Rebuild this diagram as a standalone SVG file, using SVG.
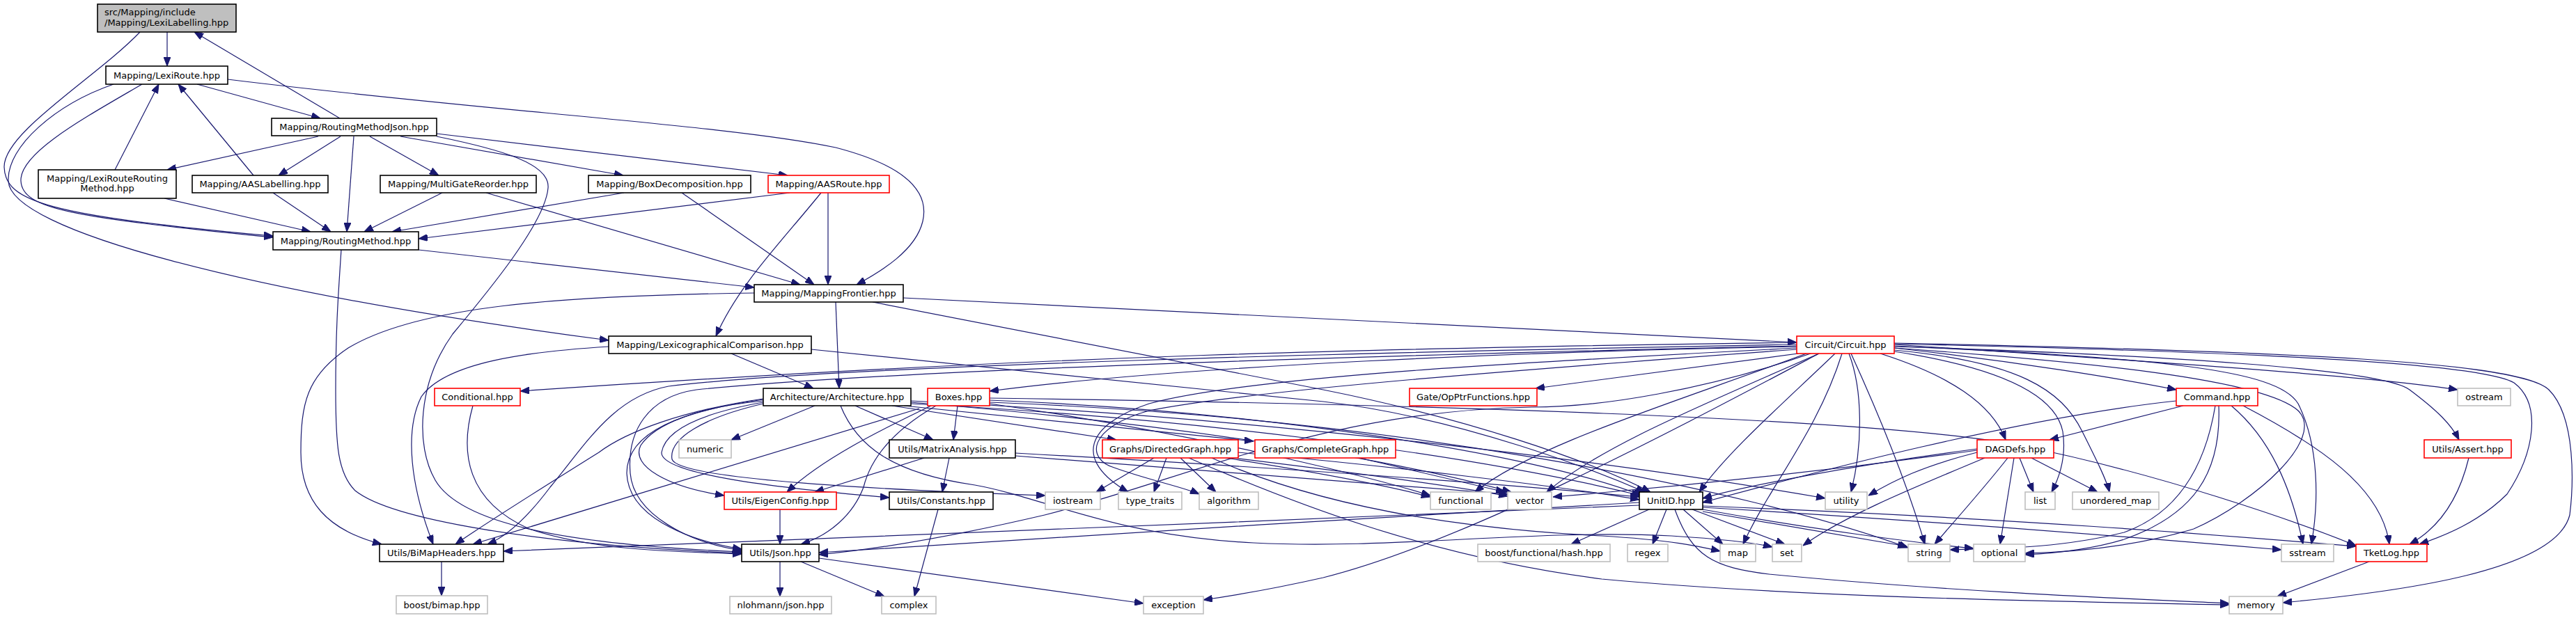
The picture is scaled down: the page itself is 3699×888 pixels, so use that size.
<svg xmlns="http://www.w3.org/2000/svg" width="3699" height="888" viewBox="0 0 3699 888">
<style>
.e{fill:none;stroke:#191970;stroke-width:1.2;marker-end:url(#a)}
.n rect{fill:#ffffff;stroke:#000000;stroke-width:1.6}
.g rect{stroke:#bfbfbf}
.r rect{stroke:#ff0000}
text{font-family:"DejaVu Sans","Liberation Sans",sans-serif;font-size:13px;fill:#000000;text-anchor:middle}
</style>
<defs>
<marker id="a" markerWidth="13" markerHeight="10" refX="13" refY="5" orient="auto" markerUnits="userSpaceOnUse"><path d="M0,0 L13,5 L0,10 z" fill="#191970" stroke="#191970" stroke-width="1"/></marker>
</defs>
<rect width="3699" height="888" fill="#ffffff"/>
<g id="edges">
<path class="e" d="M240,46 L240,95"/>
<path class="e" d="M201,46 C140,110 5,190 6,240 C7,290 70,310 392,339"/>
<path class="e" d="M283,121 L460,170"/>
<path class="e" d="M204,121 C120,170 28,220 30,260 C32,300 100,312 392,341"/>
<path class="e" d="M163,121 C80,150 10,210 12,260 C14,330 350,420 874,489"/>
<path class="e" d="M327,114 C700,160 1050,180 1200,212 C1300,238 1335,275 1325,318 C1315,360 1265,390 1230,409"/>
<path class="e" d="M488,170 L279,46"/>
<path class="e" d="M457,196 L240,244"/>
<path class="e" d="M489,196 L400,252"/>
<path class="e" d="M508,196 L498,333"/>
<path class="e" d="M531,196 L630,252"/>
<path class="e" d="M575,196 L895,252"/>
<path class="e" d="M627,192 L1131,252"/>
<path class="e" d="M627,196 C720,215 790,235 787,270 C783,320 700,420 650,480 C600,550 596,640 625,690 C660,750 800,782 1065,793"/>
<path class="e" d="M165,244 L228,121"/>
<path class="e" d="M236,285 L446,333"/>
<path class="e" d="M364,252 L256,121"/>
<path class="e" d="M392,277 L475,333"/>
<path class="e" d="M635,277 L523,333"/>
<path class="e" d="M698,277 L1149,409"/>
<path class="e" d="M896,277 L563,333"/>
<path class="e" d="M979,277 L1169,409"/>
<path class="e" d="M1134,277 L601,343"/>
<path class="e" d="M1189,277 L1189,409"/>
<path class="e" d="M1179,277 C1120,350 1060,410 1028,483"/>
<path class="e" d="M601,359 L1083,413"/>
<path class="e" d="M490,359 C486,420 482,470 482,560 C482,640 485,680 510,705 C560,745 760,782 1065,795"/>
<path class="e" d="M1200,434 L1205,558"/>
<path class="e" d="M1083,421 C800,425 600,440 500,500 C440,540 432,580 432,650 C432,720 470,762 548,782"/>
<path class="e" d="M1297,428 L2580,492"/>
<path class="e" d="M1253,434 L1900,560 C2100,600 2280,660 2370,707"/>
<path class="e" d="M1050,508 L1168,558"/>
<path class="e" d="M874,498 C760,505 640,520 605,570 C580,620 590,700 622,782"/>
<path class="e" d="M1165,502 L1900,577 C2100,600 2300,680 2362,707"/>
<path class="e" d="M679,583 C660,650 670,720 760,760 C850,790 950,792 1065,796"/>
<path class="e" d="M2580,492 C2000,500 1500,510 747,562"/>
<path class="e" d="M2580,498 C2200,505 1700,525 1421,562"/>
<path class="e" d="M2582,508 L2205,558"/>
<path class="e" d="M2720,500 C2900,520 3050,545 3125,560"/>
<path class="e" d="M2720,495 C3100,520 3400,540 3529,560"/>
<path class="e" d="M2700,508 C2800,540 2860,580 2880,632"/>
<path class="e" d="M2720,498 C3100,510 3420,530 3460,560 C3500,590 3520,610 3531,632"/>
<path class="e" d="M2720,505 C2850,525 2950,560 2962,620 C2968,660 2955,690 2946,707"/>
<path class="e" d="M2720,503 C2900,520 2960,560 2990,620 C3010,660 3025,690 3029,707"/>
<path class="e" d="M2720,500 C3000,520 3250,545 3300,590 C3340,630 3240,720 3150,760 C3050,790 2950,794 2908,795"/>
<path class="e" d="M2720,497 C3100,515 3270,530 3300,580 C3330,640 3330,720 3319,782"/>
<path class="e" d="M2720,494 C3200,505 3560,520 3610,550 C3650,580 3640,650 3600,710 C3560,750 3510,770 3474,782"/>
<path class="e" d="M2720,493 C3300,505 3620,520 3660,560 C3700,600 3695,700 3690,740 C3670,820 3450,850 3278,866"/>
<path class="e" d="M2658,508 C2700,600 2740,700 2764,782"/>
<path class="e" d="M2645,508 C2610,620 2540,700 2503,782"/>
<path class="e" d="M2655,508 C2675,560 2675,640 2658,707"/>
<path class="e" d="M2635,508 C2560,580 2480,650 2440,707"/>
<path class="e" d="M2612,508 C2450,580 2300,640 2221,707"/>
<path class="e" d="M2594,508 C2400,580 2200,640 2118,707"/>
<path class="e" d="M2612,508 C2400,620 2100,780 1900,830 C1820,848 1770,856 1728,862"/>
<path class="e" d="M2580,497 C2000,510 1300,530 1000,560 C930,570 900,620 905,680 C910,740 990,780 1065,791"/>
<path class="e" d="M2580,495 C2000,505 1200,525 960,555 C880,570 840,640 790,700 C760,740 730,770 700,782"/>
<path class="e" d="M2600,508 C2450,560 2300,585 2200,585 C1900,590 1700,690 1500,740 C1350,775 1250,790 1176,797"/>
<path class="e" d="M2580,500 C2200,520 1800,540 1650,580 C1560,610 1540,660 1620,707"/>
<path class="e" d="M2580,502 C2200,530 1800,560 1650,590 C1560,615 1560,660 1600,672 C1650,690 1700,700 1722,710"/>
<path class="e" d="M1096,576 C1000,585 940,610 920,640 C905,670 960,700 1040,712"/>
<path class="e" d="M1096,578 C1000,595 955,620 950,650 C948,680 1100,700 1277,715"/>
<path class="e" d="M1096,580 C1010,600 960,630 965,660 C975,690 1300,705 1501,712"/>
<path class="e" d="M1096,574 C980,590 900,620 900,680 C902,740 980,775 1065,789"/>
<path class="e" d="M1096,573 C980,590 900,620 860,650 C780,700 700,750 654,782"/>
<path class="e" d="M1170,583 L1050,632"/>
<path class="e" d="M1228,583 L1340,632"/>
<path class="e" d="M1281,583 L1603,632"/>
<path class="e" d="M1298,583 L1800,634"/>
<path class="e" d="M1308,580 C1700,600 2100,650 2356,712"/>
<path class="e" d="M1308,578 C1700,610 2000,660 2170,707"/>
<path class="e" d="M1308,576 C1800,600 2300,660 2621,716"/>
<path class="e" d="M1207,583 C1230,640 1280,680 1400,697 C1500,715 1600,770 1800,780 C2000,790 2200,760 2400,770 C2480,775 2520,780 2545,786"/>
<path class="e" d="M1375,583 L1369,632"/>
<path class="e" d="M1337,583 C1260,620 1180,660 1130,707"/>
<path class="e" d="M1344,583 C1280,620 1250,660 1240,700 C1225,740 1190,770 1150,782"/>
<path class="e" d="M1320,587 L679,782"/>
<path class="e" d="M1421,575 C1800,590 2200,650 2358,712"/>
<path class="e" d="M1421,572 C2000,580 2700,600 2900,640 C3100,680 3300,750 3383,784"/>
<path class="e" d="M1421,578 C2000,600 2500,700 2740,787"/>
<path class="e" d="M1421,580 C1700,620 1950,680 2054,712"/>
<path class="e" d="M1657,658 L1574,707"/>
<path class="e" d="M1675,658 L1657,707"/>
<path class="e" d="M1695,658 L1746,707"/>
<path class="e" d="M1760,658 C1900,680 2000,700 2054,714"/>
<path class="e" d="M1770,658 C1950,680 2100,700 2165,713"/>
<path class="e" d="M1778,650 C2000,670 2250,700 2354,718"/>
<path class="e" d="M1707,658 C1850,720 2050,800 2300,832 C2600,860 3000,865 3201,869"/>
<path class="e" d="M1740,658 C1900,730 2100,760 2300,770 C2400,776 2440,785 2470,792"/>
<path class="e" d="M1952,658 L2161,707"/>
<path class="e" d="M1327,658 L1170,707"/>
<path class="e" d="M1363,658 L1353,707"/>
<path class="e" d="M1458,651 C1800,670 2100,690 2354,714"/>
<path class="e" d="M1458,655 C1800,680 2050,700 2165,710"/>
<path class="e" d="M1120,732 L1120,782"/>
<path class="e" d="M1347,732 L1313,857"/>
<path class="e" d="M1120,807 L1120,857"/>
<path class="e" d="M1150,807 L1270,857"/>
<path class="e" d="M1176,802 L1642,867"/>
<path class="e" d="M634,807 L634,856"/>
<path class="e" d="M2368,732 L2256,782"/>
<path class="e" d="M2393,732 L2373,782"/>
<path class="e" d="M2417,732 L2474,782"/>
<path class="e" d="M2430,732 L2563,782"/>
<path class="e" d="M2445,735 L2738,785"/>
<path class="e" d="M2445,732 C2600,760 2750,780 2834,788"/>
<path class="e" d="M2445,729 C2800,750 3100,775 3276,790"/>
<path class="e" d="M2445,727 C2900,745 3200,770 3383,785"/>
<path class="e" d="M2405,732 C2430,800 2460,815 2540,825 C2800,850 3050,860 3201,867"/>
<path class="e" d="M2354,722 C2000,740 1500,775 1176,794"/>
<path class="e" d="M2354,726 C1800,750 1000,780 723,792"/>
<path class="e" d="M2900,658 L2920,707"/>
<path class="e" d="M2917,658 L3012,707"/>
<path class="e" d="M2892,658 L2872,782"/>
<path class="e" d="M2883,658 C2850,700 2810,745 2778,782"/>
<path class="e" d="M2850,658 C2750,700 2650,740 2589,784"/>
<path class="e" d="M2839,650 C2760,670 2720,690 2683,712"/>
<path class="e" d="M2839,647 C2600,680 2400,700 2230,714"/>
<path class="e" d="M2839,645 C2650,670 2500,700 2445,716"/>
<path class="e" d="M3135,583 L2943,632"/>
<path class="e" d="M3125,576 C2900,600 2600,680 2445,722"/>
<path class="e" d="M3186,583 C3190,680 3150,740 3050,775 C3000,790 2950,795 2908,797"/>
<path class="e" d="M3181,583 C3165,680 3120,740 3050,765 C2950,790 2850,788 2800,790"/>
<path class="e" d="M3204,583 C3260,630 3290,700 3307,782"/>
<path class="e" d="M3221,583 C3330,640 3420,700 3431,782"/>
<path class="e" d="M3545,658 C3530,720 3500,760 3460,782"/>
<path class="e" d="M3402,807 L3270,857"/>
</g>
<g id="n0" class="n"><rect x="140" y="6" width="199" height="40" style="fill:#bfbfbf"/><text x="150" y="21.5" style="text-anchor:start">src/Mapping/include</text><text x="150" y="36.5" style="text-anchor:start">/Mapping/LexiLabelling.hpp</text></g>
<g id="n1" class="n"><rect x="152" y="95" width="175" height="26"/><text x="239.5" y="112.5">Mapping/LexiRoute.hpp</text></g>
<g id="n2" class="n"><rect x="390" y="170" width="237" height="25"/><text x="508.5" y="187">Mapping/RoutingMethodJson.hpp</text></g>
<g id="n3" class="n"><rect x="55" y="244" width="198" height="41"/><text x="154" y="261">Mapping/LexiRouteRouting</text><text x="154" y="275">Method.hpp</text></g>
<g id="n4" class="n"><rect x="276" y="252" width="195" height="25"/><text x="373.5" y="269">Mapping/AASLabelling.hpp</text></g>
<g id="n5" class="n"><rect x="546" y="252" width="224" height="25"/><text x="658" y="269">Mapping/MultiGateReorder.hpp</text></g>
<g id="n6" class="n"><rect x="845" y="252" width="233" height="25"/><text x="961.5" y="269">Mapping/BoxDecomposition.hpp</text></g>
<g id="n7" class="n r"><rect x="1103" y="252" width="174" height="25"/><text x="1190" y="269">Mapping/AASRoute.hpp</text></g>
<g id="n8" class="n"><rect x="392" y="333" width="209" height="26"/><text x="496.5" y="350.5">Mapping/RoutingMethod.hpp</text></g>
<g id="n9" class="n"><rect x="1083" y="409" width="214" height="25"/><text x="1190" y="426">Mapping/MappingFrontier.hpp</text></g>
<g id="n10" class="n"><rect x="874" y="483" width="291" height="25"/><text x="1019.5" y="500">Mapping/LexicographicalComparison.hpp</text></g>
<g id="n11" class="n r"><rect x="2580" y="483" width="140" height="25"/><text x="2650" y="500">Circuit/Circuit.hpp</text></g>
<g id="n12" class="n r"><rect x="624" y="558" width="123" height="25"/><text x="685.5" y="575">Conditional.hpp</text></g>
<g id="n13" class="n"><rect x="1096" y="558" width="212" height="25"/><text x="1202" y="575">Architecture/Architecture.hpp</text></g>
<g id="n14" class="n r"><rect x="1332" y="558" width="89" height="25"/><text x="1376.5" y="575">Boxes.hpp</text></g>
<g id="n15" class="n r"><rect x="2024" y="558" width="183" height="25"/><text x="2115.5" y="575">Gate/OpPtrFunctions.hpp</text></g>
<g id="n16" class="n r"><rect x="3125" y="558" width="117" height="25"/><text x="3183.5" y="575">Command.hpp</text></g>
<g id="n17" class="n g"><rect x="3529" y="558" width="76" height="25"/><text x="3567" y="575">ostream</text></g>
<g id="n18" class="n g"><rect x="975" y="632" width="75" height="26"/><text x="1012.5" y="649.5">numeric</text></g>
<g id="n19" class="n"><rect x="1277" y="632" width="181" height="26"/><text x="1367.5" y="649.5">Utils/MatrixAnalysis.hpp</text></g>
<g id="n20" class="n r"><rect x="1583" y="632" width="195" height="26"/><text x="1680.5" y="649.5">Graphs/DirectedGraph.hpp</text></g>
<g id="n21" class="n r"><rect x="1802" y="632" width="202" height="26"/><text x="1903" y="649.5">Graphs/CompleteGraph.hpp</text></g>
<g id="n22" class="n r"><rect x="2839" y="632" width="110" height="26"/><text x="2894" y="649.5">DAGDefs.hpp</text></g>
<g id="n23" class="n r"><rect x="3481" y="632" width="125" height="26"/><text x="3543.5" y="649.5">Utils/Assert.hpp</text></g>
<g id="n24" class="n r"><rect x="1040" y="707" width="161" height="25"/><text x="1120.5" y="724">Utils/EigenConfig.hpp</text></g>
<g id="n25" class="n"><rect x="1277" y="707" width="149" height="25"/><text x="1351.5" y="724">Utils/Constants.hpp</text></g>
<g id="n26" class="n g"><rect x="1501" y="707" width="79" height="25"/><text x="1540.5" y="724">iostream</text></g>
<g id="n27" class="n g"><rect x="1606" y="707" width="91" height="25"/><text x="1651.5" y="724">type_traits</text></g>
<g id="n28" class="n g"><rect x="1722" y="707" width="85" height="25"/><text x="1764.5" y="724">algorithm</text></g>
<g id="n29" class="n g"><rect x="2054" y="707" width="87" height="25"/><text x="2097.5" y="724">functional</text></g>
<g id="n30" class="n g"><rect x="2165" y="707" width="63" height="25"/><text x="2196.5" y="724">vector</text></g>
<g id="n31" class="n"><rect x="2354" y="707" width="91" height="25"/><text x="2399.5" y="724">UnitID.hpp</text></g>
<g id="n32" class="n g"><rect x="2621" y="707" width="60" height="25"/><text x="2651" y="724">utility</text></g>
<g id="n33" class="n g"><rect x="2908" y="707" width="43" height="25"/><text x="2929.5" y="724">list</text></g>
<g id="n34" class="n g"><rect x="2976" y="707" width="124" height="25"/><text x="3038" y="724">unordered_map</text></g>
<g id="n35" class="n"><rect x="545" y="782" width="178" height="25"/><text x="634" y="799">Utils/BiMapHeaders.hpp</text></g>
<g id="n36" class="n"><rect x="1065" y="782" width="111" height="25"/><text x="1120.5" y="799">Utils/Json.hpp</text></g>
<g id="n37" class="n g"><rect x="2122" y="782" width="190" height="25"/><text x="2217" y="799">boost/functional/hash.hpp</text></g>
<g id="n38" class="n g"><rect x="2337" y="782" width="58" height="25"/><text x="2366" y="799">regex</text></g>
<g id="n39" class="n g"><rect x="2470" y="782" width="51" height="25"/><text x="2495.5" y="799">map</text></g>
<g id="n40" class="n g"><rect x="2545" y="782" width="42" height="25"/><text x="2566" y="799">set</text></g>
<g id="n41" class="n g"><rect x="2740" y="782" width="60" height="25"/><text x="2770" y="799">string</text></g>
<g id="n42" class="n g"><rect x="2834" y="782" width="74" height="25"/><text x="2871" y="799">optional</text></g>
<g id="n43" class="n g"><rect x="3276" y="782" width="75" height="25"/><text x="3313.5" y="799">sstream</text></g>
<g id="n44" class="n r"><rect x="3383" y="782" width="102" height="25"/><text x="3434" y="799">TketLog.hpp</text></g>
<g id="n45" class="n g"><rect x="569" y="856" width="131" height="26"/><text x="634.5" y="873.5">boost/bimap.hpp</text></g>
<g id="n46" class="n g"><rect x="1048" y="857" width="146" height="25"/><text x="1121" y="874">nlohmann/json.hpp</text></g>
<g id="n47" class="n g"><rect x="1266" y="857" width="78" height="25"/><text x="1305" y="874">complex</text></g>
<g id="n48" class="n g"><rect x="1642" y="857" width="86" height="25"/><text x="1685" y="874">exception</text></g>
<g id="n49" class="n g"><rect x="3201" y="857" width="77" height="25"/><text x="3239.5" y="874">memory</text></g>
</svg>
